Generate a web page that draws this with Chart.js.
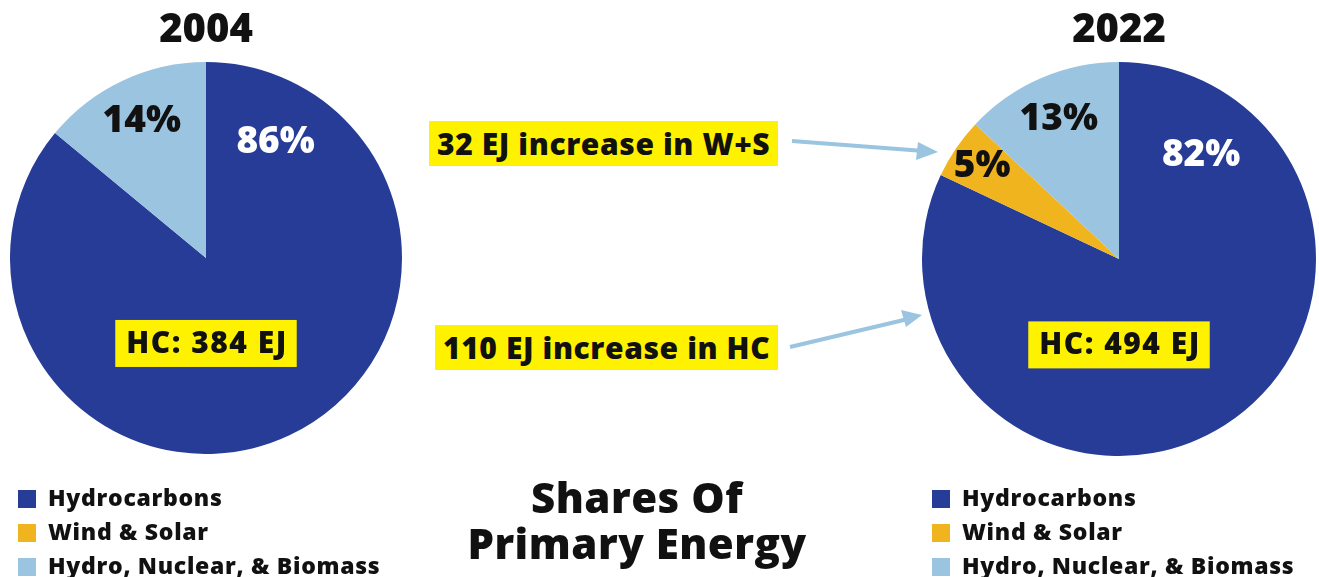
<!DOCTYPE html>
<html>
<head>
<meta charset="utf-8">
<script src="https://cdn.jsdelivr.net/npm/chart.js@4/dist/chart.umd.min.js"></script>
<style>
  body { margin: 0; width: 1319px; height: 577px; background: #fff; position: relative; overflow: hidden;
         font-family: 'Open Sans', sans-serif; font-weight: 800; color: #111; }
  .pie { position: absolute; }
  .tag { position: absolute; background: #fff200; font-size: 30px; line-height: 45px; padding: 0 8px; white-space: nowrap; letter-spacing: 0.6px; }
  .legend { position: absolute; font-size: 23px; letter-spacing: 0.7px; }
  .legend div { height: 34px; line-height: 34px; white-space: nowrap; }
  .legend i { display: inline-block; width: 18px; height: 18px; margin-right: 12px; vertical-align: -2px; }
  #heading { position: absolute; left: 437px; top: 474px; width: 400px; text-align: center; font-size: 42px; line-height: 46px; letter-spacing: 0.5px; }
  svg { position: absolute; left: 0; top: 0; }
</style>
</head>
<body>

<div class="pie" style="left:10px;top:0px;width:392px;height:454px"><canvas id="pie2004"></canvas></div>
<div class="pie" style="left:922px;top:0px;width:394px;height:456px"><canvas id="pie2022"></canvas></div>

<div class="tag" id="tagWS" style="left:429px;top:121px"></div>
<div class="tag" id="tagHC" style="left:435px;top:325px"></div>

<svg width="1319" height="577">
  <g stroke="#9ac4e0" stroke-width="4" fill="#9ac4e0">
    <line x1="792" y1="141" x2="924" y2="151"/>
    <polygon points="938,152 918,142 916,160" stroke="none"/>
    <line x1="790" y1="347" x2="908" y2="319"/>
    <polygon points="922,315 901,310 906,327" stroke="none"/>
  </g>
</svg>

<div class="legend" id="legendL" style="left:18px;top:480px"></div>
<div class="legend" id="legendR" style="left:932px;top:480px"></div>
<div id="heading">Shares Of<br>Primary Energy</div>

<script>
// data
var categories = ['Hydrocarbons', 'Wind & Solar', 'Hydro, Nuclear, & Biomass'];
var colors = ['#263c97', '#f0b41f', '#9bc4e0'];
var years = ['2004', '2022'];
var shares2004 = [86, 0, 14];
var shares2022 = [82, 5, 13];
var hcEJ = [384, 494];
var wsIncreaseEJ = 32;
var hcIncreaseEJ = hcEJ[1] - hcEJ[0];

var FONT = '"Open Sans", sans-serif';

// percent labels + HC box drawn on top of the slices
var sliceLabels = {
  id: 'sliceLabels',
  afterDatasetsDraw: function(chart, args, opts) {
    var ctx = chart.ctx;
    var meta = chart.getDatasetMeta(0);
    var values = chart.data.datasets[0].data;
    ctx.save();
    ctx.textAlign = 'center';
    ctx.textBaseline = 'middle';
    meta.data.forEach(function(arc, i) {
      if (!values[i]) return;
      var span = arc.endAngle - arc.startAngle;
      var ang, rf;
      if (span > Math.PI) { ang = arc.startAngle + opts.bigAngle * Math.PI / 180; rf = opts.bigR; }
      else { ang = (arc.startAngle + arc.endAngle) / 2; rf = span < 0.5 ? 0.84 : 0.77; }
      var x = arc.x + Math.cos(ang) * arc.outerRadius * rf;
      var y = arc.y + Math.sin(ang) * arc.outerRadius * rf;
      ctx.font = '800 37px ' + FONT;
      ctx.fillStyle = i === 0 ? '#ffffff' : '#111111';
      ctx.fillText(values[i] + '%', x, y);
    });

    var a = meta.data[0];
    var text = 'HC: ' + opts.hc + ' EJ';
    ctx.font = '800 30px ' + FONT;
    ctx.letterSpacing = '1.5px';
    var w = ctx.measureText(text).width + 20;
    var cy = a.y + a.outerRadius * 0.436;
    ctx.fillStyle = '#fff200';
    ctx.fillRect(a.x - w / 2, cy - 23.5, w, 47);
    ctx.fillStyle = '#111111';
    ctx.fillText(text, a.x + 1, cy + 1);
    ctx.restore();
  }
};

function makePie(id, year, shares, hc, bigAngle, bigR) {
  return new Chart(document.getElementById(id), {
    type: 'pie',
    data: {
      labels: categories,
      datasets: [{ data: shares, backgroundColor: colors, borderWidth: 0 }]
    },
    options: {
      responsive: true,
      maintainAspectRatio: false,
      animation: false,
      layout: { padding: 0 },
      plugins: {
        legend: { display: false },
        tooltip: { enabled: false },
        title: {
          display: true,
          text: year,
          color: '#111',
          font: { family: FONT, size: 40, weight: '800' },
          padding: { top: 7, bottom: 7 }
        },
        sliceLabels: { hc: hc, bigAngle: bigAngle, bigR: bigR }
      }
    },
    plugins: [sliceLabels]
  });
}

makePie('pie2004', years[0], shares2004, hcEJ[0], 31, 0.69);
makePie('pie2022', years[1], shares2022, hcEJ[1], 38.5, 0.67);

document.getElementById('tagWS').textContent = wsIncreaseEJ + ' EJ increase in W+S';
document.getElementById('tagHC').textContent = hcIncreaseEJ + ' EJ increase in HC';

function buildLegend(id) {
  var el = document.getElementById(id);
  categories.forEach(function(c, i) {
    var row = document.createElement('div');
    var box = document.createElement('i');
    box.style.background = colors[i];
    row.appendChild(box);
    row.appendChild(document.createTextNode(c));
    el.appendChild(row);
  });
}
buildLegend('legendL');
buildLegend('legendR');
</script>
</body>
</html>
